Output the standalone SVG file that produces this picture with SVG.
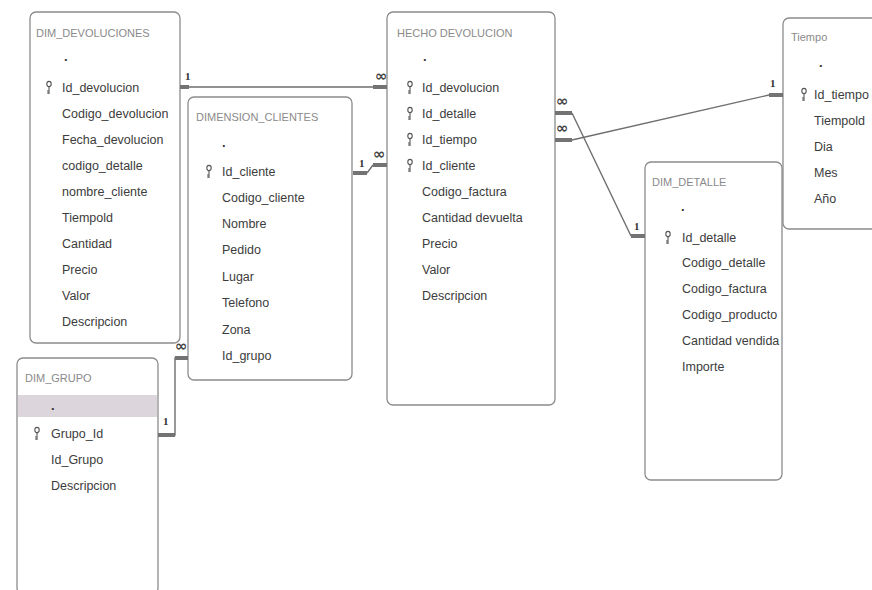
<svg xmlns="http://www.w3.org/2000/svg" xmlns:xlink="http://www.w3.org/1999/xlink" width="872" height="590" viewBox="0 0 872 590">
<style>
.box{fill:#ffffff;stroke:#8c8c8c;stroke-width:1.3}
.title{font-family:"Liberation Sans",Arial,sans-serif;font-size:11px;fill:#8a8a8a}
.fld{font-family:"Liberation Sans",Arial,sans-serif;font-size:12.5px;fill:#3c3c3c}
.dot{font-family:"Liberation Sans",Arial,sans-serif;font-size:13px;fill:#333;font-weight:bold}
.ln{stroke:#6e6e6e;stroke-width:1.4;fill:none}
.end{stroke:#737373;stroke-width:4;fill:none}
.one{font-family:"Liberation Serif","Times New Roman",serif;font-size:11px;font-weight:bold;fill:#333}
.many{font-family:"DejaVu Sans",sans-serif;font-size:15px;font-weight:bold;fill:#444}
</style>
<defs>
<g id="key" fill="none" stroke="#555" stroke-width="1.1">
<ellipse cx="0" cy="-4" rx="2.2" ry="2.6"/>
<line x1="0" y1="-1.4" x2="0" y2="6"/>
<line x1="0" y1="3" x2="-2" y2="3"/>
<line x1="0" y1="5" x2="-2" y2="5"/>
</g>
</defs>
<rect x="0" y="0" width="872" height="590" fill="#ffffff"/>

<g id="dim_devoluciones">
<rect class="box" x="30" y="12" width="150" height="331" rx="6"/>
<text class="title" x="36" y="37">DIM_DEVOLUCIONES</text>
<text class="dot" x="64" y="61">.</text>
<use xlink:href="#key" x="49" y="88"/>
<text class="fld" x="62" y="92">Id_devolucion</text>
<text class="fld" x="62" y="118">Codigo_devolucion</text>
<text class="fld" x="62" y="144">Fecha_devolucion</text>
<text class="fld" x="62" y="170">codigo_detalle</text>
<text class="fld" x="62" y="196">nombre_cliente</text>
<text class="fld" x="62" y="222">Tiempold</text>
<text class="fld" x="62" y="248">Cantidad</text>
<text class="fld" x="62" y="274">Precio</text>
<text class="fld" x="62" y="300">Valor</text>
<text class="fld" x="62" y="326">Descripcion</text>
</g>

<g id="dimension_clientes">
<rect class="box" x="188" y="97" width="164" height="283" rx="6"/>
<text class="title" x="196" y="121">DIMENSION_CLIENTES</text>
<text class="dot" x="222" y="147">.</text>
<use xlink:href="#key" x="209" y="172"/>
<text class="fld" x="222" y="176">Id_cliente</text>
<text class="fld" x="222" y="202">Codigo_cliente</text>
<text class="fld" x="222" y="228">Nombre</text>
<text class="fld" x="222" y="254">Pedido</text>
<text class="fld" x="222" y="281">Lugar</text>
<text class="fld" x="222" y="307">Telefono</text>
<text class="fld" x="222" y="334">Zona</text>
<text class="fld" x="222" y="360">Id_grupo</text>
</g>

<g id="hecho_devolucion">
<rect class="box" x="387" y="12" width="168" height="393" rx="6"/>
<text class="title" x="397" y="37">HECHO DEVOLUCION</text>
<text class="dot" x="423" y="61">.</text>
<use xlink:href="#key" x="410" y="88"/>
<use xlink:href="#key" x="410" y="114"/>
<use xlink:href="#key" x="410" y="140"/>
<use xlink:href="#key" x="410" y="166"/>
<text class="fld" x="422" y="92">Id_devolucion</text>
<text class="fld" x="422" y="118">Id_detalle</text>
<text class="fld" x="422" y="144">Id_tiempo</text>
<text class="fld" x="422" y="170">Id_cliente</text>
<text class="fld" x="422" y="196">Codigo_factura</text>
<text class="fld" x="422" y="222">Cantidad devuelta</text>
<text class="fld" x="422" y="248">Precio</text>
<text class="fld" x="422" y="274">Valor</text>
<text class="fld" x="422" y="300">Descripcion</text>
</g>

<g id="tiempo">
<rect class="box" x="783" y="18" width="100" height="211" rx="6"/>
<text class="title" x="791" y="41">Tiempo</text>
<text class="dot" x="819" y="67">.</text>
<use xlink:href="#key" x="804" y="95"/>
<text class="fld" x="814" y="99">Id_tiempo</text>
<text class="fld" x="814" y="125">Tiempold</text>
<text class="fld" x="814" y="151">Dia</text>
<text class="fld" x="814" y="177">Mes</text>
<text class="fld" x="814" y="203">Año</text>
</g>

<g id="dim_detalle">
<rect class="box" x="645" y="162" width="137" height="318" rx="6"/>
<text class="title" x="652" y="186">DIM_DETALLE</text>
<text class="dot" x="681" y="211">.</text>
<use xlink:href="#key" x="668" y="238"/>
<text class="fld" x="682" y="242">Id_detalle</text>
<text class="fld" x="682" y="267">Codigo_detalle</text>
<text class="fld" x="682" y="293">Codigo_factura</text>
<text class="fld" x="682" y="319">Codigo_producto</text>
<text class="fld" x="682" y="345">Cantidad vendida</text>
<text class="fld" x="682" y="371">Importe</text>
</g>

<g id="dim_grupo">
<rect class="box" x="17" y="358" width="141" height="236" rx="6"/>
<rect x="18" y="395" width="139" height="22" fill="#ddd5dc"/>
<text class="title" x="25" y="382">DIM_GRUPO</text>
<text class="dot" x="51" y="410">.</text>
<use xlink:href="#key" x="37" y="434"/>
<text class="fld" x="51" y="438">Grupo_Id</text>
<text class="fld" x="51" y="464">Id_Grupo</text>
<text class="fld" x="51" y="490">Descripcion</text>
</g>

<g id="connectors">
<line class="ln" x1="188" y1="87" x2="373" y2="87"/>
<line class="end" x1="180" y1="87" x2="189" y2="87"/>
<line class="end" x1="373" y1="87" x2="387" y2="87"/>
<text class="one" x="185" y="80">1</text>
<text class="many" x="375" y="81">∞</text>

<polyline class="ln" points="367,173 373,165"/>
<line class="end" x1="353" y1="173" x2="367" y2="173"/>
<line class="end" x1="373" y1="165" x2="387" y2="165"/>
<text class="one" x="359" y="167">1</text>
<text class="many" x="373" y="159">∞</text>

<polyline class="ln" points="165,435 175,435 175,358 180,358"/>
<line class="end" x1="158" y1="435" x2="175" y2="435"/>
<line class="end" x1="175" y1="358" x2="188" y2="358" stroke="#8a6a72"/>
<text class="one" x="163" y="425">1</text>
<text class="many" x="175" y="351" fill="#7a5a62">∞</text>

<line class="ln" x1="572" y1="113" x2="631" y2="236"/>
<line class="end" x1="555" y1="113" x2="572" y2="113"/>
<line class="end" x1="631" y1="236" x2="645" y2="236"/>
<text class="many" x="556" y="106">∞</text>
<text class="one" x="634" y="230">1</text>

<line class="ln" x1="572" y1="140" x2="769" y2="95"/>
<line class="end" x1="555" y1="140" x2="572" y2="140"/>
<line class="end" x1="769" y1="95" x2="783" y2="95" stroke="#6c7090"/>
<text class="many" x="556" y="133">∞</text>
<text class="one" x="770" y="87">1</text>
</g>
</svg>
